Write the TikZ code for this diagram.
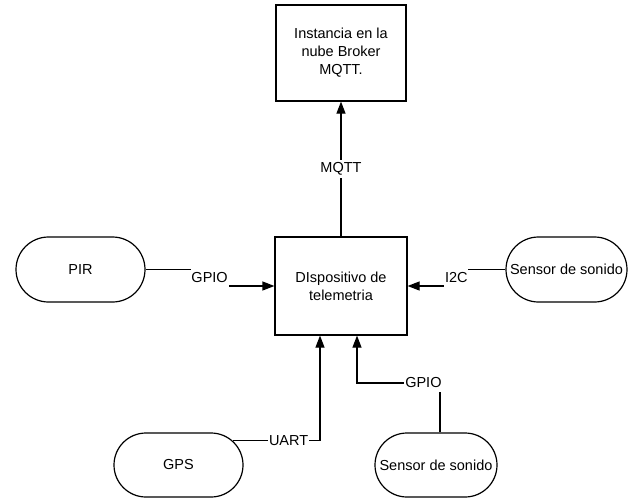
\documentclass[tikz,border=0pt]{standalone}
\usepackage{fontspec}
\setmainfont{Liberation Sans}
\usetikzlibrary{arrows.meta,shapes.misc}
\begin{document}
\begin{tikzpicture}[x=1pt,y=-1pt,
  font=\fontsize{14.5}{18}\selectfont,
  every path/.style={line width=1.2pt},
  box/.style={draw,line width=1.2pt,rectangle,align=center,inner sep=2pt},
  pill/.style={draw,line width=1.2pt,rounded rectangle,align=center,inner sep=1pt},
  lbl/.style={fill=white,inner sep=0.8pt,minimum height=18pt},
  arr/.style={-{Triangle[length=12pt,width=9pt]}}]
\useasboundingbox (0,0) rectangle (630,499);

% nodes
\node[box,minimum width=130pt,minimum height=96pt] (cloud) at (341,53)
  {Instancia en la\\nube Broker\\MQTT.};
\node[box,minimum width=132pt,minimum height=98pt] (dev) at (341,286)
  {DIspositivo de\\telemetria};
\node[pill,minimum width=131pt,minimum height=65pt] (pir) at (80.5,269.5) {PIR};
\node[pill,minimum width=123pt,minimum height=65pt] (snd1) at (566.5,269.5) {Sensor de sonido};
\node[pill,minimum width=131pt,minimum height=64pt] (gps) at (178.5,465) {GPS};
\node[pill,minimum width=124pt,minimum height=64pt] (snd2) at (436,465) {Sensor de sonido};

% connectors
\draw[arr] (dev.north) -- node[lbl]{MQTT} (cloud.south);
\draw[arr] (pir.east) -- ++(64,0) |- node[lbl,pos=0.25]{GPIO} (dev.west);
\draw[arr] (snd1.west) -- ++(-49,0) |- node[lbl,pos=0.25]{I2C} (dev.east);
\draw[arr] (gps.24) -| node[lbl,pos=0.32]{UART} ([xshift=-21pt]dev.south);
\coordinate (g1) at (440,383);
\coordinate (g2) at (357,383);
\draw[arr] ([xshift=4pt]snd2.north) -- (g1) -- node[lbl,pos=0.2]{GPIO} (g2) -- (g2 |- dev.south);
\end{tikzpicture}
\end{document}
